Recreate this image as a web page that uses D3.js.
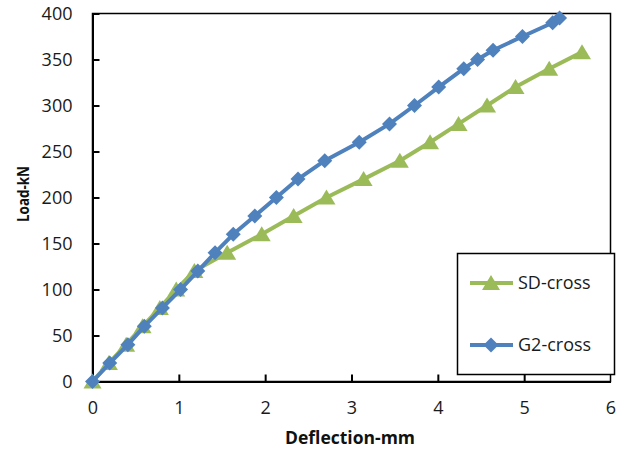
<!DOCTYPE html>
<html lang="en">
  <head>
    <title>Load - deflection</title>
    <meta charset="utf-8">
    <script src="https://cdn.jsdelivr.net/npm/d3@7"></script>
  </head>
  <style>
    body, html {
      margin: 0;
      padding: 0;
      background: #fff;
    }
    svg {
      font-family: "Open Sans";
    }
  </style>
  <body>
    <svg width="624" height="450"></svg>
  </body>
  <script>

    // SD-cross (green triangles)
    const sdDefl = [0, 0.19, 0.39, 0.58, 0.78, 0.97, 1.18, 1.56, 1.96, 2.33, 2.71, 3.14, 3.56, 3.91, 4.24, 4.57, 4.90, 5.29, 5.67]
    const sdLoad = [0, 20, 40, 60, 80, 100, 120, 140, 160, 180, 200, 220, 240, 260, 280, 300, 320, 340, 358]

    // G2-cross (blue diamonds)
    const g2Defl = [0, 0.2, 0.41, 0.6, 0.81, 1.02, 1.22, 1.42, 1.63, 1.88, 2.13, 2.38, 2.69, 3.09, 3.44, 3.73, 4.01, 4.30, 4.46, 4.64, 4.98, 5.33, 5.41]
    const g2Load = [0, 20, 40, 60, 80, 100, 120, 140, 160, 180, 200, 220, 240, 260, 280, 300, 320, 340, 350, 360, 375, 390, 395]

    const xTicks = [0, 1, 2, 3, 4, 5, 6]
    const yTicks = [0, 50, 100, 150, 200, 250, 300, 350, 400]
    const seriesNames = ["SD-cross", "G2-cross"]

    const plotLeft = 92.5, plotRight = 610.5, plotTop = 13.5, plotBottom = 381.5
    const green = "#9bbb59", blue = "#4f81bd"

    const svg = d3.select("svg")

    const x = d3.scaleLinear().domain([0, 6]).range([plotLeft, plotRight])
    const y = d3.scaleLinear().domain([0, 400]).range([plotBottom, plotTop])

    // plot frame
    svg.append("rect")
      .attr("x", plotLeft)
      .attr("y", plotTop)
      .attr("width", plotRight - plotLeft)
      .attr("height", plotBottom - plotTop)
      .attr("fill", "none")
      .attr("stroke", "#000")
      .attr("stroke-width", 1.5)

    const xAxis = svg.append("g")
      .attr("transform", "translate(0," + plotBottom + ")")
      .call(d3.axisBottom(x).tickValues(xTicks).tickFormat(d3.format("d"))
        .tickSizeInner(-7).tickSizeOuter(0).tickPadding(20))
    const yAxis = svg.append("g")
      .attr("transform", "translate(" + plotLeft + ",0)")
      .call(d3.axisLeft(y).tickValues(yTicks).tickSizeInner(-7).tickSizeOuter(0).tickPadding(20))

    ;[xAxis, yAxis].forEach(function(ax) {
      ax.select(".domain").attr("stroke", "#000").attr("stroke-width", 2)
      ax.selectAll(".tick line").attr("stroke", "#000").attr("stroke-width", 2)
      ax.selectAll(".tick text")
        .attr("fill", "#1a1a1a")
        .style("font-family", "Open Sans")
        .style("font-size", "18px")
    })
    yAxis.selectAll(".tick").filter(function(d) { return d === 0 }).select("line").remove()
    xAxis.selectAll(".tick").filter(function(d) { return d === 0 || d === 6 }).select("line").remove()

    // axis titles
    svg.append("text")
      .attr("x", 350)
      .attr("y", 444)
      .attr("text-anchor", "middle")
      .style("font-weight", "bold")
      .style("font-size", "17.5px")
      .attr("fill", "#111")
      .text("Deflection-mm")

    svg.append("text")
      .attr("transform", "translate(29,194) rotate(-90)")
      .attr("text-anchor", "middle")
      .style("font-weight", "bold")
      .style("font-size", "16px")
      .attr("textLength", 56)
      .attr("lengthAdjust", "spacingAndGlyphs")
      .attr("fill", "#111")
      .text("Load-kN")

    const diamond = "M0,-7.5L7.5,0L0,7.5L-7.5,0Z"
    const triangle = "M0,-8L9,7L-9,7Z"

    const line = d3.line().x(function(d) { return x(d[0]) }).y(function(d) { return y(d[1]) })

    function drawSeries(defl, load, color, marker) {
      const pts = defl.map(function(d, i) { return [d, load[i]] })
      const g = svg.append("g")
      g.append("path")
        .datum(pts)
        .attr("d", line)
        .attr("fill", "none")
        .attr("stroke", color)
        .attr("stroke-width", 4)
        .attr("stroke-linejoin", "round")
      g.selectAll(".mk")
        .data(pts)
        .enter()
        .append("path")
        .attr("d", marker)
        .attr("transform", function(d) { return "translate(" + x(d[0]) + "," + y(d[1]) + ")" })
        .attr("fill", color)
    }

    drawSeries(sdDefl, sdLoad, green, triangle)
    drawSeries(g2Defl, g2Load, blue, diamond)

    // legend
    const legend = svg.append("g")
    legend.append("rect")
      .attr("x", 457.5)
      .attr("y", 253.5)
      .attr("width", 157)
      .attr("height", 121)
      .attr("fill", "#fff")
      .attr("stroke", "#000")
      .attr("stroke-width", 1.5)

    const legendItems = [
      { name: seriesNames[0], color: green, marker: triangle, y: 283 },
      { name: seriesNames[1], color: blue, marker: diamond, y: 345 }
    ]
    legendItems.forEach(function(it) {
      legend.append("line")
        .attr("x1", 470).attr("x2", 513)
        .attr("y1", it.y).attr("y2", it.y)
        .attr("stroke", it.color)
        .attr("stroke-width", 4)
      legend.append("path")
        .attr("d", it.marker)
        .attr("transform", "translate(491," + it.y + ")")
        .attr("fill", it.color)
      legend.append("text")
        .attr("x", 518)
        .attr("y", it.y + 6)
        .style("font-size", "18px")
        .attr("fill", "#1a1a1a")
        .text(it.name)
    })
  </script>
</html>
